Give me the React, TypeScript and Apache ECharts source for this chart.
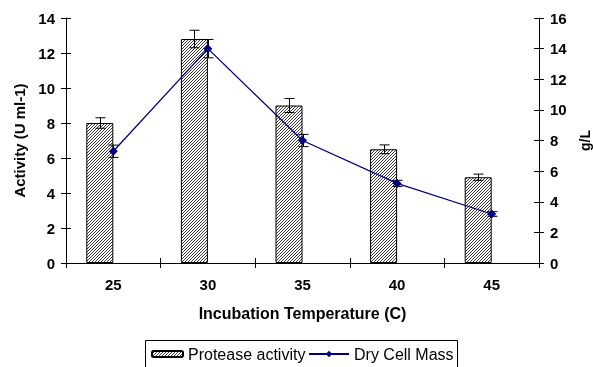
import React, { useEffect, useRef } from 'react';
import * as echarts from 'echarts';

const categories = ['25', '30', '35', '40', '45'];
const proteaseActivity = [8.0, 12.8, 9.0, 6.5, 4.9];
const proteaseError = [0.3, 0.5, 0.4, 0.25, 0.18];
const dryCellMass = [7.3, 14.0, 8.0, 5.2, 3.2];
const dryCellMassError = [0.4, 0.6, 0.4, 0.2, 0.15];
const leftAxis = { min: 0, max: 14, interval: 2 };
const rightAxis = { min: 0, max: 16, interval: 2 };

const FONT = 'Arial, "Liberation Sans", Helvetica, sans-serif';
const BAR_W = 27;
const CAP = 5;

function makeHatch(): any {
  const size = 3;
  const c = document.createElement('canvas');
  c.width = size;
  c.height = size;
  const ctx = c.getContext('2d')!;
  ctx.fillStyle = '#ffffff';
  ctx.fillRect(0, 0, size, size);
  ctx.strokeStyle = '#3a3a3a';
  ctx.lineWidth = 1;
  ctx.beginPath();
  ctx.moveTo(-1, size + 1);
  ctx.lineTo(size + 1, -1);
  ctx.moveTo(-2, 2);
  ctx.lineTo(2, -2);
  ctx.moveTo(size - 2, size + 2);
  ctx.lineTo(size + 2, size - 2);
  ctx.stroke();
  return { image: c.toDataURL(), repeat: 'repeat', imageWidth: size, imageHeight: size };
}

export default function App() {
  const ref = useRef<HTMLDivElement>(null);
  useEffect(() => {
    document.body.style.margin = '0';
    const chart = echarts.init(ref.current!, null, { renderer: 'svg' });
    const hatch = makeHatch();
    const lineStyleErr = { stroke: '#000', lineWidth: 1 };
    const errRender = (offset: number) => (params: any, api: any) => {
      const i = api.value(0);
      const v = api.value(1);
      const e = api.value(2);
      const hi = api.coord([i, v + e]);
      const lo = api.coord([i, v - e]);
      const x = Math.round(hi[0] + offset) + 0.5;
      return {
        type: 'group',
        children: [
          { type: 'line', shape: { x1: x, y1: hi[1], x2: x, y2: lo[1] }, style: lineStyleErr },
          { type: 'line', shape: { x1: x - CAP, y1: hi[1], x2: x + CAP, y2: hi[1] }, style: lineStyleErr },
          { type: 'line', shape: { x1: x - CAP, y1: lo[1], x2: x + CAP, y2: lo[1] }, style: lineStyleErr },
        ],
      };
    };
    const tickLabel = { color: '#000', fontWeight: 'bold', fontSize: 15, fontFamily: FONT };
    const titleStyle = { color: '#000', fontWeight: 'bold', fontSize: 15, fontFamily: FONT };
    const blackLine = { lineStyle: { color: '#000', width: 1 } };
    const legendText = { color: '#000', fontSize: 16, fontFamily: FONT, lineHeight: 18 };
    chart.setOption({
      animation: false,
      grid: { left: 66, right: 54, top: 18, bottom: 104, containLabel: false, outerBoundsMode: 'none' },
      xAxis: [
        {
          type: 'category',
          data: categories,
          position: 'bottom',
          axisLine: { show: true, onZero: false, ...blackLine },
          axisTick: { show: true, inside: false, length: 5, ...blackLine },
          axisLabel: { ...tickLabel, margin: 14 },
          name: 'Incubation Temperature (C)',
          nameLocation: 'middle',
          nameGap: 42,
          nameTextStyle: { ...titleStyle, fontSize: 16 },
        },
        {
          type: 'category',
          data: categories,
          position: 'bottom',
          offset: 0,
          axisLine: { show: false, onZero: false },
          axisTick: { show: true, inside: true, length: 5, ...blackLine },
          axisLabel: { show: false },
        },
      ],
      yAxis: [
        {
          type: 'value',
          position: 'left',
          ...leftAxis,
          axisLine: { show: true, ...blackLine },
          axisTick: { show: true, inside: false, length: 5, ...blackLine },
          axisLabel: { ...tickLabel, margin: 11 },
          splitLine: { show: false },
          name: 'Activity (U ml-1)',
          nameLocation: 'middle',
          nameGap: 38,
          nameRotate: 90,
          nameTextStyle: titleStyle,
        },
        {
          type: 'value',
          position: 'right',
          ...rightAxis,
          axisLine: { show: true, ...blackLine },
          axisTick: { show: true, inside: false, length: 5, ...blackLine },
          axisLabel: { ...tickLabel, margin: 11 },
          splitLine: { show: false },
          name: 'g/L',
          nameLocation: 'middle',
          nameGap: 37,
          nameRotate: 90,
          nameTextStyle: { ...titleStyle, fontSize: 14 },
        },
        {
          type: 'value',
          position: 'left',
          offset: 0,
          ...leftAxis,
          axisLine: { show: false },
          axisTick: { show: true, inside: true, length: 5, ...blackLine },
          axisLabel: { show: false },
          splitLine: { show: false },
        },
        {
          type: 'value',
          position: 'right',
          offset: 0,
          ...rightAxis,
          axisLine: { show: false },
          axisTick: { show: true, inside: true, length: 5, ...blackLine },
          axisLabel: { show: false },
          splitLine: { show: false },
        },
      ],
      legend: [
        {
          data: ['Protease activity'],
          left: 151,
          top: 345,
          padding: 0,
          itemWidth: 31,
          itemHeight: 6,
          selectedMode: false,
          textStyle: legendText,
        },
        {
          data: ['Dry Cell Mass'],
          left: 308,
          top: 345,
          padding: 0,
          itemWidth: 40,
          itemHeight: 8,
          selectedMode: false,
          textStyle: legendText,
        },
      ],
      graphic: [
        {
          type: 'rect',
          shape: { x: 145.5, y: 340.5, width: 312, height: 40 },
          style: { fill: 'none', stroke: '#000', lineWidth: 1 },
          silent: true,
        },
      ],
      series: [
        {
          name: 'Protease activity',
          type: 'bar',
          xAxisIndex: 0,
          yAxisIndex: 0,
          data: proteaseActivity,
          barWidth: BAR_W,
          barGap: '0%',
          itemStyle: { color: hatch, borderColor: '#000', borderWidth: 1 },
          z: 2,
        },
        {
          name: 'spacer',
          type: 'bar',
          xAxisIndex: 0,
          yAxisIndex: 0,
          data: categories.map(() => '-'),
          barWidth: BAR_W,
          barGap: '0%',
          itemStyle: { color: 'transparent' },
        },
        {
          name: 'proteaseErr',
          type: 'custom',
          xAxisIndex: 0,
          yAxisIndex: 0,
          encode: { x: 0, y: 1 },
          data: proteaseActivity.map((v, i) => [i, v, proteaseError[i]]),
          renderItem: errRender(-BAR_W / 2),
          silent: true,
          z: 5,
        },
        {
          name: 'Dry Cell Mass',
          type: 'line',
          xAxisIndex: 0,
          yAxisIndex: 1,
          data: dryCellMass,
          symbol: 'diamond',
          symbolSize: 9,
          lineStyle: { color: '#000080', width: 1.3 },
          itemStyle: { color: '#000080' },
          z: 10,
        },
        {
          name: 'dcmErr',
          type: 'custom',
          xAxisIndex: 0,
          yAxisIndex: 1,
          encode: { x: 0, y: 1 },
          data: dryCellMass.map((v, i) => [i, v, dryCellMassError[i]]),
          renderItem: errRender(0),
          silent: true,
          z: 9,
        },
      ],
    });
    return () => chart.dispose();
  }, []);
  return <div ref={ref} style={{ position: 'fixed', left: 0, top: 0, width: 593, height: 367 }} />;
}
